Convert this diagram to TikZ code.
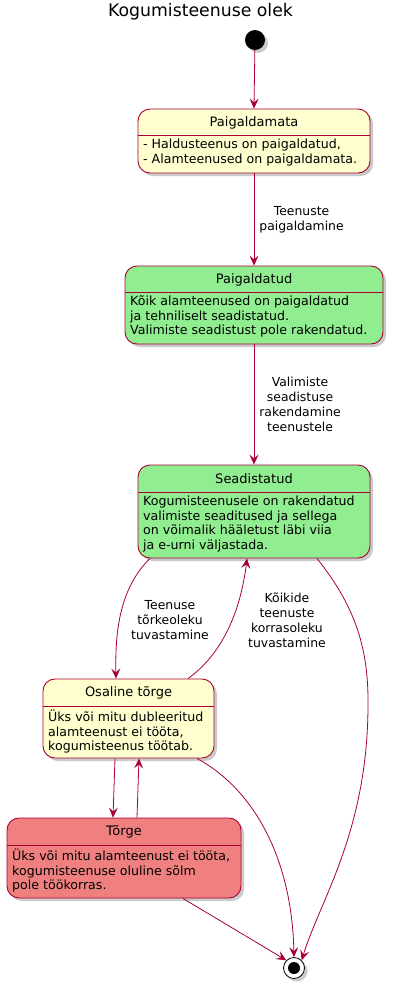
\documentclass[tikz,border=0pt]{standalone}
\usepackage{fontspec}
\setmainfont{DejaVu Sans}
\usetikzlibrary{arrows.meta,shadows}
\definecolor{plborder}{HTML}{A80036}
\definecolor{plyellow}{HTML}{FEFECE}
\definecolor{plgreen}{HTML}{90EE90}
\definecolor{plred}{HTML}{F08080}
\tikzset{
  statebox/.style={draw=plborder, line width=0.9pt, rounded corners=12pt,
    drop shadow={shadow xshift=3pt, shadow yshift=-3pt, opacity=0.35, fill=black!60}},
  headline/.style={draw=plborder, line width=0.9pt},
  sname/.style={font=\fontsize{13}{15}\selectfont, inner sep=0pt},
  sbody/.style={font=\fontsize{12.6}{14.5}\selectfont, align=left, inner sep=0pt, anchor=north west},
  elabel/.style={font=\fontsize{12.4}{15}\selectfont, align=center, inner sep=0pt},
  trans/.style={draw=plborder, line width=0.8pt, -{Stealth[length=10pt, width=9pt, inset=4pt]}},
}
\newcommand{\mkstate}[9]{%
  \node[statebox, fill=#7, minimum width=#4pt-#2pt, minimum height=#5pt-#3pt, inner sep=0pt]
    (#1) at ({(#2+#4)/2},{(#3+#5)/2}) {};
  \draw[headline] (#2,#6) -- (#4,#6);
  \node[sname] (#1-name) at ({(#2+#4)/2},{(#3+#6)/2+0.5}) {#8};
  \node[sbody] (#1-body) at ({#2+5},{#6+4}) {#9};
}
\begin{document}
\begin{tikzpicture}[x=1pt, y=-1pt]
\useasboundingbox (0,0) rectangle (416,988);
\node[font=\fontsize{17.3}{20}\selectfont, inner sep=0pt] (title) at (200.5,12) {Kogumisteenuse olek};
% start
\node[circle, fill=black, minimum size=20pt, inner sep=0pt,
  drop shadow={shadow xshift=3pt, shadow yshift=-3pt, opacity=0.35, fill=black!60}] (start) at (255,40) {};
% states
\mkstate{paigaldamata}{138}{109}{370}{173}{135}{plyellow}{Paigaldamata}{- Haldusteenus on paigaldatud,\\- Alamteenused on paigaldamata.}
\mkstate{paigaldatud}{125}{266}{383}{344}{292}{plgreen}{Paigaldatud}{Kõik alamteenused on paigaldatud\\ja tehniliselt seadistatud.\\Valimiste seadistust pole rakendatud.}
\mkstate{seadistatud}{138}{465}{370}{558}{492}{plgreen}{Seadistatud}{Kogumisteenusele on rakendatud\\valimiste seaditused ja sellega\\on võimalik hääletust läbi viia\\ja e-urni väljastada.}
\mkstate{osaline}{43}{679}{214}{758}{706}{plyellow}{Osaline tõrge}{Üks või mitu dubleeritud\\alamteenust ei tööta,\\kogumisteenus töötab.}
\mkstate{torge}{7}{818}{241}{898}{845}{plred}{Tõrge}{Üks või mitu alamteenust ei tööta,\\kogumisteenuse oluline sõlm\\pole töökorras.}
% end
\node[circle, draw=black, line width=0.8pt, fill=white, minimum size=21pt, inner sep=0pt,
  drop shadow={shadow xshift=3pt, shadow yshift=-3pt, opacity=0.35, fill=black!60}] (end) at (294,968) {};
\node[circle, fill=black, minimum size=12pt, inner sep=0pt] (endin) at (294,968) {};
% transitions
\draw[trans] (start) -- (paigaldamata.north);
\draw[trans] (paigaldamata.south) -- node[elabel, right=5pt, pos=0.5] (l1) {Teenuste\\paigaldamine} (paigaldatud.north);
\draw[trans] (paigaldatud.south) -- node[elabel, right=5pt, pos=0.5] (l2) {Valimiste\\seadistuse\\rakendamine\\teenustele} (seadistatud.north);
\draw[trans] (seadistatud.south -| 150,0) .. controls (120,588) and (115,630) .. (osaline.north -| 116,0);
\node[elabel] (l3) at (170,620) {Teenuse\\tõrkeoleku\\tuvastamine};
\draw[trans] (osaline.north -| 188,0) .. controls (228,650) and (242,600) .. (seadistatud.south -| 247,0);
\node[elabel] (l4) at (287,620) {Kõikide\\teenuste\\korrasoleku\\tuvastamine};
\draw[trans] (seadistatud.south -| 317,0) .. controls (350,600) and (368,640) .. (368,700) .. controls (369,830) and (320,900) .. (end.north east);
\draw[trans] (osaline.south -| 197,0) .. controls (255,790) and (292,860) .. (end.north);
\draw[trans] (osaline.south -| 115,0) -- (torge.north -| 113,0);
\draw[trans] (torge.north -| 137,0) -- (osaline.south -| 139,0);
\draw[trans] (torge.south -| 183,0) -- (end.north west);
\end{tikzpicture}
\end{document}
